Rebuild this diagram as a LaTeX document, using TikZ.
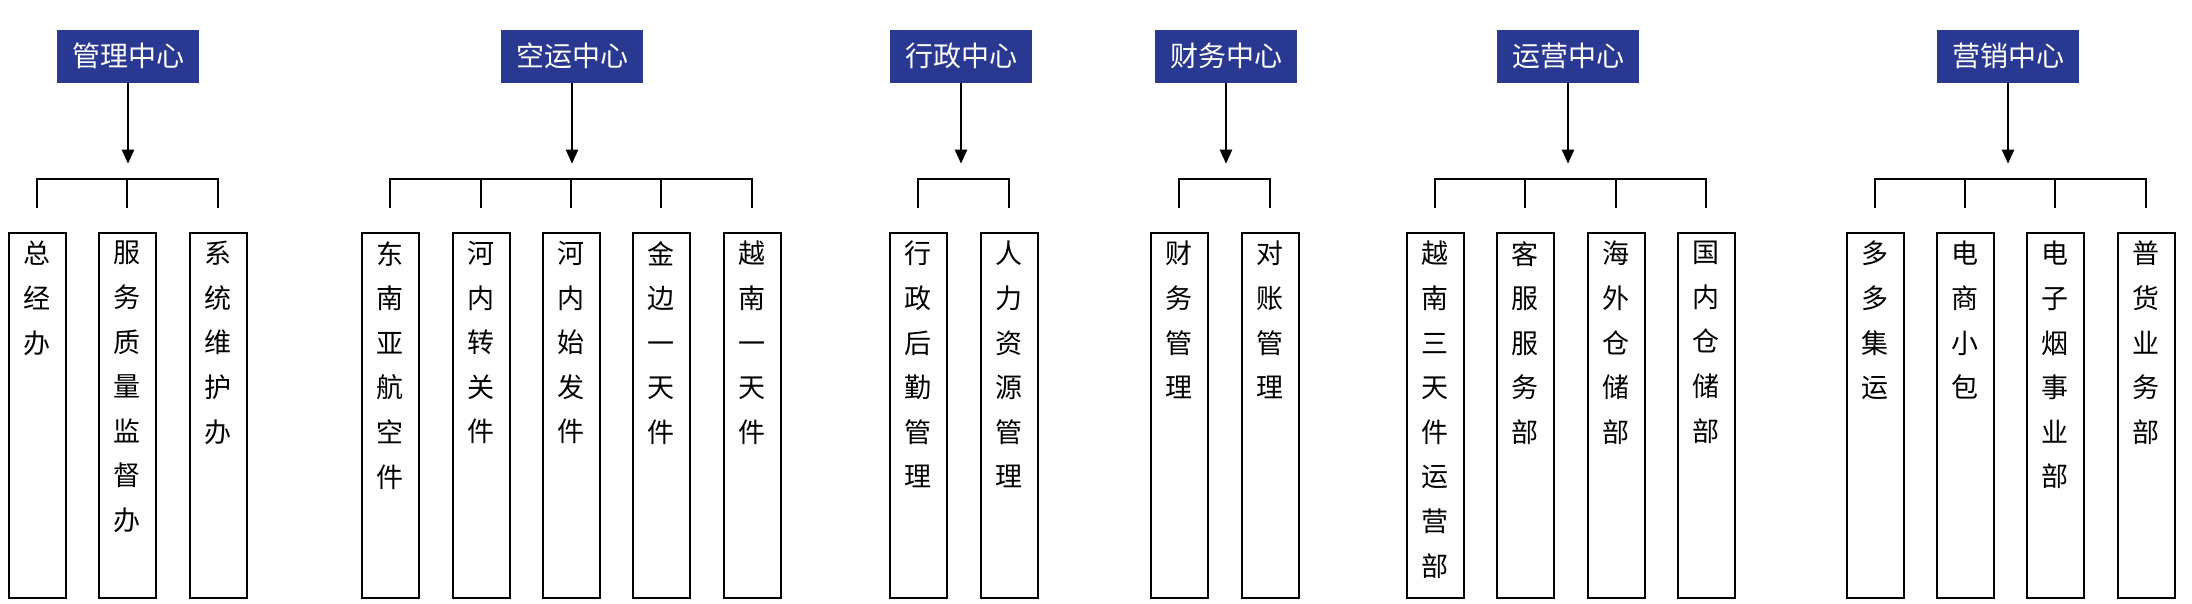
\documentclass[tikz,border=0pt]{standalone}
\usepackage{fontspec}
\setmainfont{Noto Sans CJK SC}
\usetikzlibrary{arrows.meta}
\definecolor{hdblue}{RGB}{41,56,145}
\newcommand{\vtxt}[1]{\parbox[t][350pt][t]{40pt}{\centering\fontsize{27}{44.6}\selectfont #1}}
\tikzset{
  hdbox/.style={fill=hdblue,text=white,minimum width=142pt,minimum height=53pt,inner sep=0pt,font=\fontsize{28}{30}\selectfont},
  deptbox/.style={draw,line width=2pt,minimum width=57pt,minimum height=365pt,inner sep=0pt,anchor=north},
  link/.style={line width=2.2pt},
}
\begin{document}
\begin{tikzpicture}[x=1pt,y=-1pt]
\useasboundingbox (0,0) rectangle (2192,603);
% header boxes
\node[hdbox] (h1) at (128,56) {管理中心};
\node[hdbox] (h2) at (572,56) {空运中心};
\node[hdbox] (h3) at (961,56) {行政中心};
\node[hdbox] (h4) at (1226,56) {财务中心};
\node[hdbox] (h5) at (1568,56) {运营中心};
\node[hdbox] (h6) at (2008,56) {营销中心};
% department boxes
\foreach \n/\x in {a1/37,a2/127,a3/218,b1/390,b2/481,b3/571,b4/661,b5/752,c1/918,c2/1009,
  d1/1179,d2/1270,e1/1435,e2/1525,e3/1616,e4/1706,f1/1875,f2/1965,f3/2055,f4/2146}
  \node[deptbox] (\n) at (\x,232) {};
\foreach \n/\t in {a1/{总\\经\\办},a2/{服\\务\\质\\量\\监\\督\\办},a3/{系\\统\\维\\护\\办},
  b1/{东\\南\\亚\\航\\空\\件},b2/{河\\内\\转\\关\\件},b3/{河\\内\\始\\发\\件},b4/{金\\边\\一\\天\\件},b5/{越\\南\\一\\天\\件},
  c1/{行\\政\\后\\勤\\管\\理},c2/{人\\力\\资\\源\\管\\理},
  d1/{财\\务\\管\\理},d2/{对\\账\\管\\理},
  e1/{越\\南\\三\\天\\件\\运\\营\\部},e2/{客\\服\\服\\务\\部},e3/{海\\外\\仓\\储\\部},e4/{国\\内\\仓\\储\\部},
  f1/{多\\多\\集\\运},f2/{电\\商\\小\\包},f3/{电\\子\\烟\\事\\业\\部},f4/{普\\货\\业\\务\\部}}
  \node[anchor=north,inner sep=0pt] (\n t) at ([yshift=-9pt]\n.north) {\vtxt{\t}};
% arrows from headers
\foreach \h in {1,...,6}
  \draw[link,-{Triangle[length=14pt,width=12pt]}] (h\h.south) -- ++(0,81);
% buses and stubs
\foreach \first/\last/\all in {a1/a3/{a1,a2,a3},b1/b5/{b1,b2,b3,b4,b5},c1/c2/{c1,c2},d1/d2/{d1,d2},e1/e4/{e1,e2,e3,e4},f1/f4/{f1,f2,f3,f4}}{
  \draw[link] ([yshift=24pt]\first.north) |- ([yshift=53pt]\last.north) -- ([yshift=24pt]\last.north);
  \foreach \m in \all
    \draw[link] ([yshift=24pt]\m.north) -- ([yshift=53pt]\m.north);
}
\end{tikzpicture}
\end{document}
